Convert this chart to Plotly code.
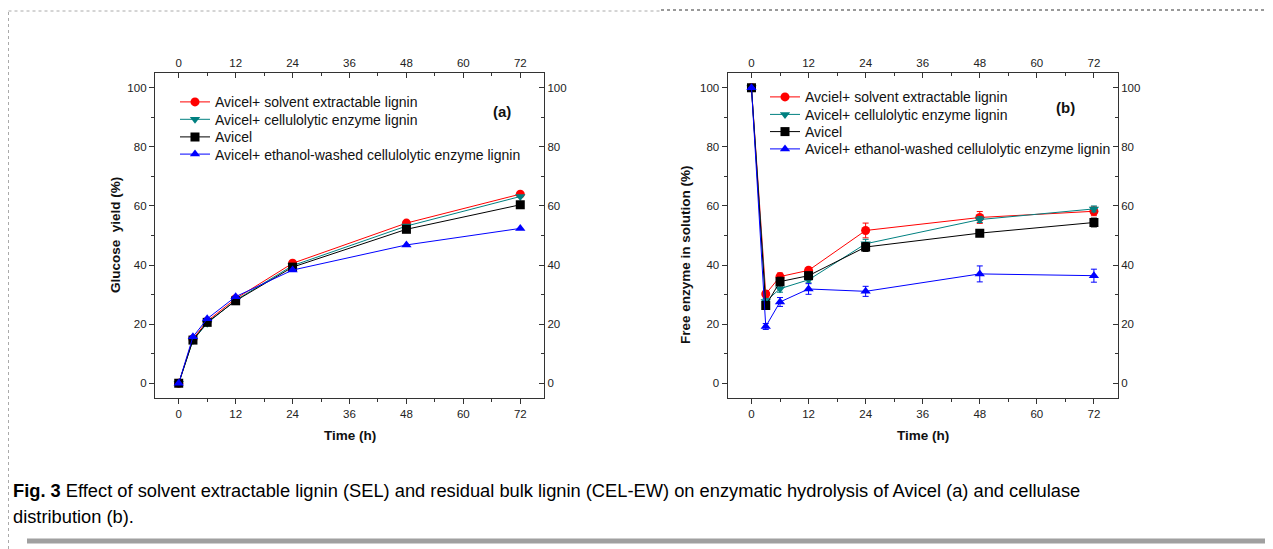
import plotly.graph_objects as go

# page is shown with an 8px body margin; figure coordinates are page - 8
OFF = 8
W, H = 1273 - OFF, 549 - OFF

def px(p):
    return (p - OFF) / W

def py(p):
    return 1 - (p - OFF) / H

time_h = [0, 3, 6, 12, 24, 48, 72]

# (a) Glucose yield (%)
glu_sel = [0, 15.0, 21.0, 28.6, 40.6, 54.2, 64.0]
glu_cel = [0, 14.5, 20.3, 28.1, 39.8, 53.2, 63.2]
glu_avicel = [0, 14.6, 20.6, 27.9, 39.3, 52.1, 60.4]
glu_ewcel = [0, 15.7, 21.8, 29.3, 38.3, 46.8, 52.4]

# (b) Free enzyme in solution (%)
fe_sel = [100, 30.2, 36.1, 38.2, 51.7, 56.1, 58.2]
fe_sel_err = [0, 1.0, 1.2, 1.0, 2.5, 2.0, 1.5]
fe_cel = [100, 27.7, 32.0, 35.0, 47.2, 55.4, 59.0]
fe_cel_err = [0, 1.0, 1.2, 1.0, 1.5, 1.0, 1.0]
fe_avicel = [100, 26.3, 34.4, 36.4, 46.1, 50.8, 54.4]
fe_avicel_err = [0, 1.2, 1.5, 1.2, 1.5, 0.5, 1.5]
fe_ewcel = [100, 19.2, 27.5, 31.9, 31.1, 37.0, 36.4]
fe_ewcel_err = [0, 1.0, 1.5, 1.8, 1.7, 2.7, 2.2]

names_a = ["Avicel+ solvent extractable lignin", "Avicel+ cellulolytic enzyme lignin",
           "Avicel", "Avicel+ ethanol-washed cellulolytic enzyme lignin"]
names_b = ["Avciel+ solvent extractable lignin", "Avicel+ cellulolytic enzyme lignin",
           "Avicel", "Avicel+ ethanol-washed cellulolytic enzyme lignin"]
colors = ["#FF0000", "#008080", "#000000", "#0000FF"]
symbols = ["circle", "triangle-down", "square", "triangle-up"]

x_ticks = [0, 12, 24, 36, 48, 60, 72]
y_ticks = [0, 20, 40, 60, 80, 100]

FONT = "Liberation Sans, Arial, sans-serif"

fig = go.Figure()

series_a = [glu_sel, glu_cel, glu_avicel, glu_ewcel]
for i, (name, ys, c, s) in enumerate(zip(names_a, series_a, colors, symbols)):
    fig.add_trace(go.Scatter(
        x=time_h, y=ys, name=name, mode="lines+markers",
        line=dict(color=c, width=1), marker=dict(color=c, symbol=s, size=9),
        xaxis="x", yaxis="y", legend="legend" if i == 0 else f"legend{i + 1}"))

series_b = [(fe_sel, fe_sel_err), (fe_cel, fe_cel_err), (fe_avicel, fe_avicel_err), (fe_ewcel, fe_ewcel_err)]
for i, (name, (ys, es), c, s) in enumerate(zip(names_b, series_b, colors, symbols)):
    fig.add_trace(go.Scatter(
        x=time_h, y=ys, name=name, mode="lines+markers",
        line=dict(color=c, width=1), marker=dict(color=c, symbol=s, size=9),
        error_y=dict(type="data", array=es, visible=True, color=c, thickness=1, width=3),
        xaxis="x2", yaxis="y2", legend=f"legend{i + 5}"))

# mirror axes (top / right) carry their own labels
for xa, ya in (("x3", "y3"), ("x4", "y4")):
    fig.add_trace(go.Scatter(x=[None], y=[None], xaxis=xa, yaxis=ya, showlegend=False, hoverinfo="skip"))

FR = "#333333"
tickfont = dict(family=FONT, size=11.5, color="#222222")

def xax(domain, side="bottom", ticks="outside", **kw):
    return dict(domain=domain, range=[-5, 77], tickvals=x_ticks, side=side, ticks=ticks,
                ticklen=5, tickwidth=1, tickcolor=FR, showline=True, linecolor=FR, linewidth=1.3,
                showgrid=False, zeroline=False, tickfont=tickfont,
                minor=dict(dtick=6, tick0=0, ticks=ticks, ticklen=3, tickcolor=FR, tickwidth=1),
                **kw)

def yax(domain, side="left", ticks="outside", **kw):
    return dict(domain=domain, range=[-5, 105], tickvals=y_ticks, side=side, ticks=ticks,
                ticklen=5, tickwidth=1, tickcolor=FR, showline=True, linecolor=FR, linewidth=1.3,
                showgrid=False, zeroline=False, tickfont=tickfont,
                minor=dict(dtick=10, tick0=0, ticks=ticks, ticklen=3, tickcolor=FR, tickwidth=1),
                **kw)

xa_dom = [px(155), px(544)]
xb_dom = [px(727.7), px(1117.7)]
y_dom = [py(398), py(73)]

leg_font = dict(family=FONT, size=14, color="#111111")

layout = dict(
    width=W, height=H, margin=dict(l=0, r=0, t=0, b=0),
    paper_bgcolor="white", plot_bgcolor="white",
    font=dict(family=FONT, color="#222222"),
    xaxis=xax(xa_dom, anchor="y"),
    yaxis=yax(y_dom, anchor="x"),
    xaxis2=xax(xb_dom, anchor="y2"),
    yaxis2=yax(y_dom, anchor="x2"),
    xaxis3=xax(xa_dom, side="top", ticks="inside", anchor="y3", overlaying="x"),
    yaxis3=yax(y_dom, side="right", ticks="inside", anchor="x3", overlaying="y"),
    xaxis4=xax(xb_dom, side="top", ticks="inside", anchor="y4", overlaying="x2"),
    yaxis4=yax(y_dom, side="right", ticks="inside", anchor="x4", overlaying="y2"),
    showlegend=True,
)

rows_a = [102.3, 119.7, 137.3, 154.5]
rows_b = [97.3, 114.8, 132.0, 149.3]
for i, r in enumerate(rows_a):
    key = "legend" if i == 0 else f"legend{i + 1}"
    layout[key] = dict(x=px(175), y=py(r), xanchor="left", yanchor="middle", bgcolor="rgba(0,0,0,0)",
                       font=leg_font, itemwidth=30)
for i, r in enumerate(rows_b):
    layout[f"legend{i + 5}"] = dict(x=px(765), y=py(r), xanchor="left", yanchor="middle",
                                    bgcolor="rgba(0,0,0,0)", font=leg_font, itemwidth=30)
fig.update_layout(**layout)

ann = []
bold = dict(family=FONT, size=13.5, color="#111111")
ann.append(dict(text="<b>Time (h)</b>", x=px(349.5), y=py(435), xref="paper", yref="paper",
                showarrow=False, font=bold, xanchor="center", yanchor="middle"))
ann.append(dict(text="<b>Time (h)</b>", x=px(922.7), y=py(435), xref="paper", yref="paper",
                showarrow=False, font=bold, xanchor="center", yanchor="middle"))
ann.append(dict(text="<b>Glucose  yield (%)</b>", x=px(115), y=py(235), xref="paper", yref="paper",
                showarrow=False, font=bold, textangle=-90, xanchor="center", yanchor="middle"))
ann.append(dict(text="<b>Free enzyme in solution (%)</b>", x=px(685), y=py(255), xref="paper", yref="paper",
                showarrow=False, font=bold, textangle=-90, xanchor="center", yanchor="middle"))
ann.append(dict(text="<b>(a)</b>", x=px(501.5), y=py(101), xref="paper", yref="paper",
                showarrow=False, font=dict(family=FONT, size=15, color="#111111")))
ann.append(dict(text="<b>(b)</b>", x=px(1077), y=py(97.5), xref="paper", yref="paper",
                showarrow=False, font=dict(family=FONT, size=15, color="#111111")))
cap_font = dict(family=FONT, size=18.3, color="#000000")
ann.append(dict(text="<b>Fig. 3</b> Effect of solvent extractable lignin (SEL) and residual bulk lignin (CEL-EW) on enzymatic hydrolysis of Avicel (a) and cellulase",
                x=px(11), y=py(490), xref="paper", yref="paper", showarrow=False,
                font=cap_font, xanchor="left", yanchor="middle"))
ann.append(dict(text="distribution (b).", x=px(11), y=py(516), xref="paper", yref="paper",
                showarrow=False, font=cap_font, xanchor="left", yanchor="middle"))
fig.update_layout(annotations=ann)

shapes = [
    dict(type="rect", xref="paper", yref="paper", x0=px(27), x1=1, y0=py(543.5), y1=py(538.5),
         fillcolor="#A0A0A0", line=dict(width=0)),
    dict(type="line", xref="paper", yref="paper", x0=px(8.5), x1=px(8.5), y0=0, y1=py(11),
         line=dict(color="#AAAAAA", width=1, dash="dot")),
    dict(type="line", xref="paper", yref="paper", x0=px(8.5), x1=px(661), y0=py(11), y1=py(11),
         line=dict(color="#AAAAAA", width=1, dash="dot")),
    dict(type="line", xref="paper", yref="paper", x0=px(661), x1=1, y0=py(10), y1=py(10),
         line=dict(color="#999999", width=2, dash="dot")),
]
fig.update_layout(shapes=shapes)

fig.write_html("out.html")
